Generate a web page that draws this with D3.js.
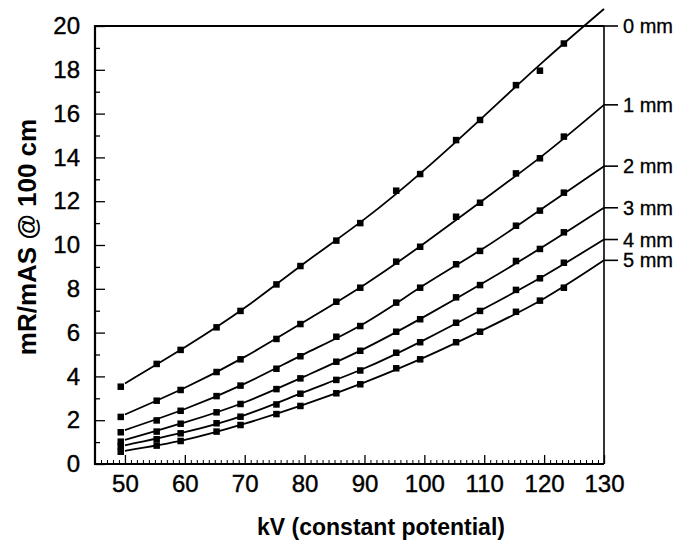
<!DOCTYPE html>
<html><head><meta charset="utf-8">
<script src="https://cdn.jsdelivr.net/npm/d3@7"></script>
<style>body{margin:0;background:#fff} svg{display:block}</style>
</head><body><svg id="c" width="681" height="549"></svg>
<script>
// ---- data ----
const seriesNames = ["0 mm", "1 mm", "2 mm", "3 mm", "4 mm", "5 mm"];
const markerKV = [49.3, 55.3, 59.3, 65.3, 69.3, 75.3, 79.3, 85.3, 89.3, 95.3, 99.3, 105.3, 109.3, 115.3, 119.3, 123.3];
const marks0 = [3.53, 4.57, 5.21, 6.24, 6.99, 8.20, 9.04, 10.20, 11.00, 12.48, 13.24, 14.79, 15.71, 17.30, 17.96, 19.20];
const marks1 = [2.15, 2.89, 3.38, 4.20, 4.78, 5.71, 6.39, 7.41, 8.05, 9.24, 9.92, 11.29, 11.93, 13.27, 13.96, 14.95];
const marks2 = [1.45, 1.99, 2.43, 3.10, 3.58, 4.35, 4.92, 5.81, 6.30, 7.37, 8.05, 9.12, 9.73, 10.88, 11.57, 12.39];
const marks3 = [1.02, 1.48, 1.84, 2.36, 2.74, 3.42, 3.91, 4.67, 5.17, 6.04, 6.61, 7.61, 8.17, 9.27, 9.82, 10.58];
const marks4 = [0.79, 1.13, 1.40, 1.86, 2.16, 2.72, 3.21, 3.84, 4.27, 5.08, 5.56, 6.45, 6.99, 7.95, 8.48, 9.19];
const marks5 = [0.56, 0.84, 1.05, 1.48, 1.78, 2.28, 2.65, 3.23, 3.64, 4.37, 4.78, 5.56, 6.04, 6.95, 7.46, 8.05];
// fitted curves read at 50..130 kV
const fitKV = [50, 60, 70, 80, 90, 100, 110, 120, 130];
const fit0 = [3.68, 5.33, 7.13, 9.18, 11.18, 13.43, 15.90, 18.41, 20.78];
const fit1 = [2.26, 3.48, 4.89, 6.51, 8.19, 10.08, 12.09, 14.14, 16.40];
const fit2 = [1.55, 2.51, 3.67, 5.03, 6.43, 8.18, 9.87, 11.72, 13.60];
const fit3 = [1.10, 1.90, 2.82, 4.00, 5.27, 6.73, 8.30, 9.95, 11.70];
const fit4 = [0.85, 1.45, 2.23, 3.29, 4.37, 5.67, 7.10, 8.60, 10.25];
const fit5 = [0.60, 1.10, 1.84, 2.72, 3.73, 4.87, 6.15, 7.56, 9.30];
const labelValues = [20, 16.4, 13.6, 11.7, 10.25, 9.3];
const xTickLabels = [50, 60, 70, 80, 90, 100, 110, 120, 130];
const yTickLabels = [0, 2, 4, 6, 8, 10, 12, 14, 16, 18, 20];

const marks = [marks0, marks1, marks2, marks3, marks4, marks5];
const fits = [fit0, fit1, fit2, fit3, fit4, fit5];

// ---- layout ----
const svg = d3.select("#c");
const x = d3.scaleLinear().domain([45, 130]).range([95, 604]);
const y = d3.scaleLinear().domain([0, 20]).range([464, 26]);
const font = "Liberation Sans, Arial, Helvetica, sans-serif";

// minor ticks
svg.append("g").attr("transform", `translate(${x(45)},0)`)
  .call(d3.axisLeft(y).tickValues(d3.range(1, 20, 2)).tickSizeInner(-5).tickSizeOuter(0).tickFormat(""))
  .call(g => g.select(".domain").remove())
  .selectAll("line").attr("stroke", "#000").attr("stroke-width", 1.3);
svg.append("g").attr("transform", `translate(0,${y(0)})`)
  .call(d3.axisBottom(x).tickValues(d3.range(46, 130).filter(d => d % 10 !== 0)).tickSizeInner(-4).tickSizeOuter(0).tickFormat(""))
  .call(g => g.select(".domain").remove())
  .selectAll("line").attr("stroke", "#000").attr("stroke-width", 1);

// major ticks + labels
const ya = svg.append("g").attr("transform", `translate(${x(45)},0)`)
  .call(d3.axisLeft(y).tickValues(yTickLabels).tickSizeInner(-10).tickSizeOuter(0).tickPadding(15));
ya.select(".domain").remove();
ya.selectAll("line").attr("stroke", "#000").attr("stroke-width", 1.3);
ya.selectAll("text").attr("font-family", font).attr("font-size", 24).attr("fill", "#000")
  .attr("stroke", "#000").attr("stroke-width", 0.4);

const xa = svg.append("g").attr("transform", `translate(0,${y(0)})`)
  .call(d3.axisBottom(x).tickValues(xTickLabels).tickSizeInner(-9).tickSizeOuter(0).tickPadding(11));
xa.select(".domain").remove();
xa.selectAll("line").attr("stroke", "#000").attr("stroke-width", 1.3);
xa.selectAll("text").attr("font-family", font).attr("font-size", 24).attr("fill", "#000")
  .attr("stroke", "#000").attr("stroke-width", 0.4);

// frame
const fr = svg.append("g").attr("stroke", "#000").attr("fill", "none");
fr.append("line").attr("x1", x(45)).attr("x2", x(45)).attr("y1", y(20) - 1).attr("y2", y(0) + 1).attr("stroke-width", 2.2);
fr.append("line").attr("x1", x(45)).attr("x2", x(130)).attr("y1", y(0)).attr("y2", y(0)).attr("stroke-width", 2);
fr.append("line").attr("x1", x(45)).attr("x2", x(130)).attr("y1", y(20)).attr("y2", y(20)).attr("stroke-width", 1.8);
fr.append("line").attr("x1", x(130)).attr("x2", x(130)).attr("y1", y(20)).attr("y2", y(0)).attr("stroke-width", 1.6);

// curves
const line = d3.line().x(d => x(d[0])).y(d => y(d[1])).curve(d3.curveNatural);
fits.forEach(f => {
  svg.append("path").attr("d", line(fitKV.map((k, i) => [k, f[i]])))
    .attr("fill", "none").attr("stroke", "#000").attr("stroke-width", 1.8);
});

// markers
const ms = 6.5;
marks.forEach(m => {
  svg.append("g").selectAll("rect").data(markerKV.map((k, i) => [k, m[i]])).join("rect")
    .attr("x", d => x(d[0]) - ms / 2).attr("y", d => y(d[1]) - ms / 2)
    .attr("width", ms).attr("height", ms).attr("fill", "#000");
});

// right-side labels
seriesNames.forEach((s, i) => {
  const yy = y(labelValues[i]);
  svg.append("line").attr("x1", x(130)).attr("x2", x(130) + 14).attr("y1", yy).attr("y2", yy)
    .attr("stroke", "#000").attr("stroke-width", 1.6);
  svg.append("text").attr("x", x(130) + 19).attr("y", yy).attr("dy", "0.35em")
    .attr("font-family", font).attr("font-size", 20).attr("fill", "#000")
    .attr("stroke", "#000").attr("stroke-width", 0.3).text(s);
});

// axis titles
svg.append("text").attr("x", 381).attr("y", 535).attr("text-anchor", "middle")
  .attr("font-family", font).attr("font-weight", "bold").attr("font-size", 23).text("kV (constant potential)");
svg.append("text").attr("transform", "translate(36,237) rotate(-90)").attr("text-anchor", "middle")
  .attr("font-family", font).attr("font-weight", "bold").attr("font-size", 26).text("mR/mAS @ 100 cm");
</script></body></html>
